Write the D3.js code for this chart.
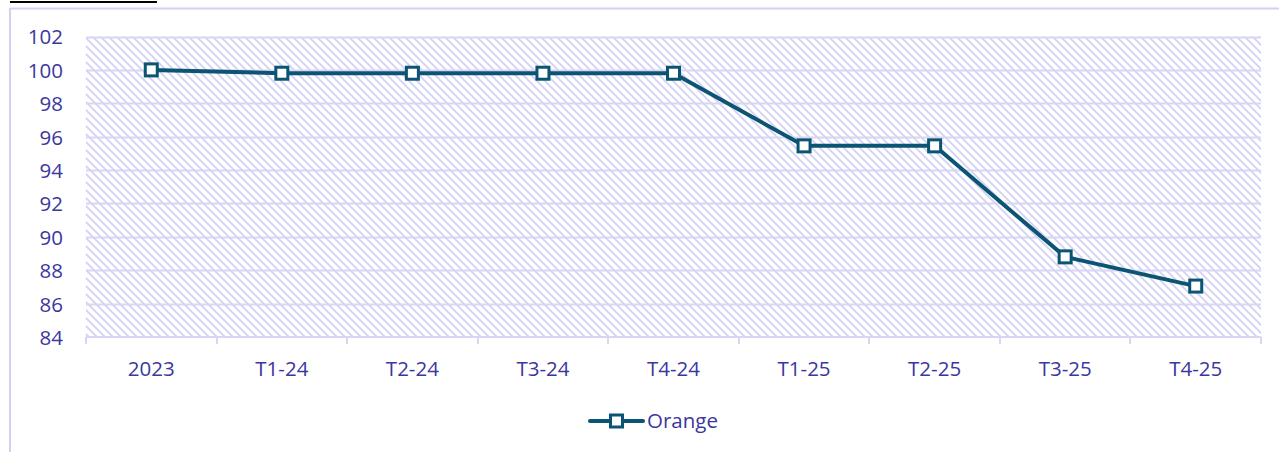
<!DOCTYPE html>
<html><head><meta charset="utf-8">
<script src="https://cdn.jsdelivr.net/npm/d3@7"></script>
<style>
html,body{margin:0;padding:0;background:#fff;overflow:hidden}
svg{display:block}
</style></head>
<body>
<script>
const categories = ["2023","T1-24","T2-24","T3-24","T4-24","T1-25","T2-25","T3-25","T4-25"];
const seriesName = "Orange";
const values = [100, 99.8, 99.8, 99.8, 99.8, 95.45, 95.45, 88.8, 87.05];
const yTicks = [84,86,88,90,92,94,96,98,100,102];

const W = 1279, H = 452;
const plot = {left: 86, right: 1261, top: 36.5, bottom: 337};
const labelColor = "#3b379f";
const lineColor = "#0b5474";
const gridColor = "#d8d6f2";
const font = "'Open Sans', 'Liberation Sans', sans-serif";
const fs = 20.5;

const svg = d3.select("body").append("svg").attr("width", W).attr("height", H);

const defs = svg.append("defs");
const pat = defs.append("pattern").attr("id","hatch").attr("patternUnits","userSpaceOnUse")
  .attr("width",8).attr("height",8);
pat.append("rect").attr("width",8).attr("height",8).attr("fill","#ffffff");
pat.append("path").attr("d","M-2,-2 L10,10 M-2,6 L2,10 M6,-2 L10,2")
  .attr("stroke","#d3d1f5").attr("stroke-width",1.8);

// frame
svg.append("line").attr("x1",10).attr("x2",W).attr("y1",8.5).attr("y2",8.5)
  .attr("stroke","#d2d0f0").attr("stroke-width",2);
svg.append("line").attr("x1",10).attr("x2",10).attr("y1",8).attr("y2",H)
  .attr("stroke","#d2d0f0").attr("stroke-width",2);
// cut-off title underline above frame
svg.append("line").attr("x1",10).attr("x2",157).attr("y1",2).attr("y2",2)
  .attr("stroke","#000").attr("stroke-width",2);

const x = d3.scaleBand().domain(categories).range([plot.left, plot.right]);
const y = d3.scaleLinear().domain([84,102]).range([plot.bottom, plot.top]);

svg.append("rect").attr("x",plot.left).attr("y",plot.top)
  .attr("width",plot.right-plot.left).attr("height",plot.bottom-plot.top)
  .attr("fill","url(#hatch)");

// gridlines
svg.append("g").selectAll("line").data(yTicks.filter(d=>d>84)).join("line")
  .attr("x1",plot.left).attr("x2",plot.right)
  .attr("y1",d=>Math.round(y(d))+0.5).attr("y2",d=>Math.round(y(d))+0.5)
  .attr("stroke",gridColor).attr("stroke-width",2);

// y axis labels
const yAxis = d3.axisLeft(y).tickValues(yTicks).tickSize(0).tickPadding(0);
const gy = svg.append("g").attr("transform",`translate(${63},0)`).call(yAxis);
gy.select(".domain").remove();
gy.selectAll("text").attr("fill",labelColor).attr("font-family",font)
  .attr("font-size",fs).attr("dy","0.36em");

// x axis
const xAxis = d3.axisBottom(x).tickSize(0).tickPadding(0);
const gx = svg.append("g").attr("transform",`translate(0,${plot.bottom})`).call(xAxis);
gx.select(".domain").remove();
gx.selectAll("text").attr("fill",labelColor).attr("font-family",font)
  .attr("font-size",fs).attr("y",31.5).attr("dy","0.36em");
svg.append("line").attr("x1",plot.left).attr("x2",plot.right)
  .attr("y1",plot.bottom).attr("y2",plot.bottom).attr("stroke",gridColor).attr("stroke-width",2);
const bounds = categories.map(c=>x(c)).concat([plot.right]);
svg.append("g").selectAll("line").data(bounds).join("line")
  .attr("x1",d=>Math.round(d)).attr("x2",d=>Math.round(d))
  .attr("y1",plot.bottom).attr("y2",plot.bottom+7)
  .attr("stroke",gridColor).attr("stroke-width",2);

// series line
const cx = c => x(c) + x.bandwidth()/2;
const line = d3.line().x((d,i)=>cx(categories[i])).y(d=>y(d));
svg.append("path").datum(values).attr("d",line).attr("fill","none")
  .attr("stroke",lineColor).attr("stroke-width",4).attr("stroke-linejoin","round");
const ms = 12;
svg.append("g").selectAll("rect").data(values).join("rect")
  .attr("x",(d,i)=>cx(categories[i])-ms/2).attr("y",d=>y(d)-ms/2)
  .attr("width",ms).attr("height",ms).attr("fill","#fff")
  .attr("stroke",lineColor).attr("stroke-width",3);

// legend
const lg = svg.append("g");
lg.append("line").attr("x1",590).attr("x2",643).attr("y1",421).attr("y2",421)
  .attr("stroke",lineColor).attr("stroke-width",4).attr("stroke-linecap","round");
lg.append("rect").attr("x",616.5-ms/2).attr("y",421-ms/2).attr("width",ms).attr("height",ms)
  .attr("fill","#fff").attr("stroke",lineColor).attr("stroke-width",3);
lg.append("text").attr("x",647).attr("y",421).attr("dy","0.36em")
  .attr("fill",labelColor).attr("font-family",font).attr("font-size",fs).text(seriesName);
</script>
</body></html>
